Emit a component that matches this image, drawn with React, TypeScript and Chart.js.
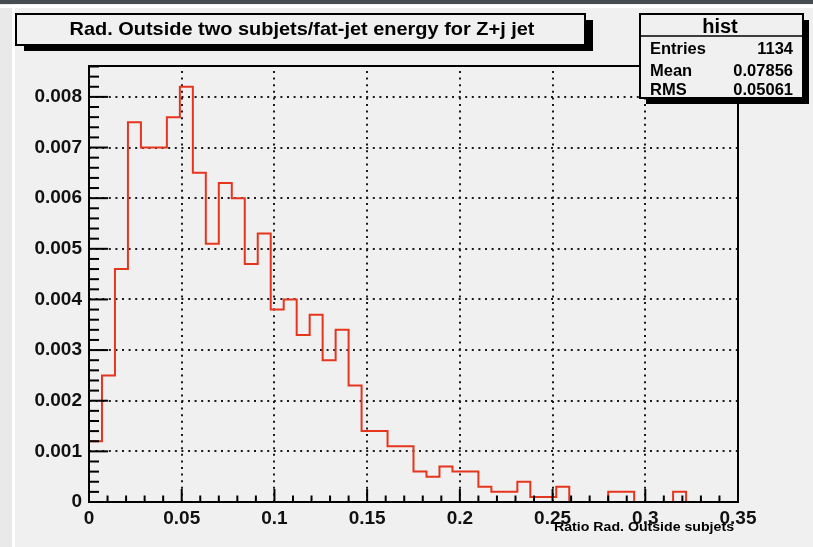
import React, { useEffect, useRef } from "react";
import { Chart, registerables } from "chart.js";

Chart.register(...registerables);

// ---------------- data ----------------
const BIN_WIDTH = 0.007;
const BIN_VALUES = [
  0.0012, 0.0025, 0.0046, 0.0075, 0.007, 0.007, 0.0076, 0.0082, 0.0065, 0.0051,
  0.0063, 0.006, 0.0047, 0.0053, 0.0038, 0.004, 0.0033, 0.0037, 0.0028, 0.0034,
  0.0023, 0.0014, 0.0014, 0.0011, 0.0011, 0.0006, 0.0005, 0.0007, 0.0006, 0.0006,
  0.0003, 0.0002, 0.0002, 0.0004, 0.0001, 0.0001, 0.0003, 0, 0, 0,
  0.0002, 0.0002, 0, 0, 0, 0.0002, 0, 0, 0, 0,
];
const X_TICKS = [0, 0.05, 0.1, 0.15, 0.2, 0.25, 0.3, 0.35];
const X_TICK_LABELS = ["0", "0.05", "0.1", "0.15", "0.2", "0.25", "0.3", "0.35"];
const Y_TICKS = [0, 0.001, 0.002, 0.003, 0.004, 0.005, 0.006, 0.007, 0.008];
const Y_TICK_LABELS = ["0", "0.001", "0.002", "0.003", "0.004", "0.005", "0.006", "0.007", "0.008"];
const X_MIN = 0;
const X_MAX = 0.35;
const Y_MIN = 0;
const Y_MAX = 0.00861;
const X_MINOR_STEP = 0.01;
const Y_MINOR_STEP = 0.0002;
const TITLE = "Rad. Outside two subjets/fat-jet energy for Z+j jet";
const X_TITLE = "Ratio Rad. Outside subjets";
const STATS_NAME = "hist";
const STATS_LABELS = ["Entries", "Mean", "RMS"];
const STATS_VALUES = ["1134", "0.07856", "0.05061"];

const FONT = "'Liberation Sans', Arial, Helvetica, sans-serif";
const BG = "#f0f0f0";
const RED = "#e6351f";

function fitText(
  ctx: CanvasRenderingContext2D,
  text: string,
  x: number,
  y: number,
  targetWidth: number,
  align: CanvasTextAlign
) {
  const w = ctx.measureText(text).width;
  const s = w > 0 ? targetWidth / w : 1;
  ctx.save();
  ctx.translate(x, y);
  ctx.scale(s, 1);
  ctx.textAlign = align;
  ctx.textBaseline = "alphabetic";
  ctx.fillText(text, 0, 0);
  ctx.restore();
}

function nearIdx(arr: number[], v: number) {
  for (let i = 0; i < arr.length; i++) if (Math.abs(arr[i] - v) < 1e-9) return i;
  return -1;
}

const rootPlugin = {
  id: "rootStyle",
  beforeDraw(chart: any) {
    const ctx: CanvasRenderingContext2D = chart.ctx;
    const W = chart.width;
    const H = chart.height;
    ctx.save();
    ctx.fillStyle = BG;
    ctx.fillRect(0, 0, W, H);
    ctx.fillStyle = "#e9e9e9";
    ctx.fillRect(0, 0, 12, H);
    ctx.fillStyle = "#ffffff";
    ctx.fillRect(12, 5, 3, H);
    ctx.fillRect(0, 5, W, 3);
    ctx.fillStyle = "#474b52";
    ctx.fillRect(0, 0, W, 4);
    ctx.restore();
  },
  beforeDatasetsDraw(chart: any) {
    const ctx: CanvasRenderingContext2D = chart.ctx;
    const { left, right, top, bottom } = chart.chartArea;
    const xs = chart.scales.x;
    const ys = chart.scales.y;
    ctx.save();
    ctx.strokeStyle = "#1a1a1a";
    ctx.lineWidth = 2;
    ctx.setLineDash([2, 4.6]);
    for (const v of Y_TICKS) {
      if (v <= Y_MIN) continue;
      const y = Math.round(ys.getPixelForValue(v));
      ctx.beginPath();
      ctx.moveTo(left, y);
      ctx.lineTo(right, y);
      ctx.stroke();
    }
    for (const v of X_TICKS) {
      if (v <= X_MIN || v >= X_MAX) continue;
      const x = Math.round(xs.getPixelForValue(v));
      ctx.beginPath();
      ctx.moveTo(x, bottom);
      ctx.lineTo(x, top);
      ctx.stroke();
    }
    ctx.restore();
  },
  afterDatasetsDraw(chart: any) {
    const ctx: CanvasRenderingContext2D = chart.ctx;
    const { left, right, top, bottom } = chart.chartArea;
    const xs = chart.scales.x;
    const ys = chart.scales.y;
    ctx.save();
    ctx.strokeStyle = "#000";
    ctx.lineWidth = 2;
    ctx.setLineDash([]);
    const nY = Math.floor((Y_MAX - Y_MIN) / Y_MINOR_STEP + 1e-6);
    for (let i = 0; i <= nY; i++) {
      const v = Y_MIN + i * Y_MINOR_STEP;
      const major = nearIdx(Y_TICKS, Math.round(v * 1e6) / 1e6) >= 0;
      const y = ys.getPixelForValue(v);
      ctx.beginPath();
      ctx.moveTo(left, y);
      ctx.lineTo(left + (major ? 19 : 10), y);
      ctx.stroke();
    }
    const nX = Math.round((X_MAX - X_MIN) / X_MINOR_STEP);
    for (let i = 0; i <= nX; i++) {
      const v = X_MIN + i * X_MINOR_STEP;
      const major = nearIdx(X_TICKS, Math.round(v * 1e6) / 1e6) >= 0;
      const x = xs.getPixelForValue(v);
      ctx.beginPath();
      ctx.moveTo(x, bottom);
      ctx.lineTo(x, bottom - (major ? 13 : 6.5));
      ctx.stroke();
    }
    ctx.strokeRect(left, top, right - left, bottom - top);
    ctx.restore();
  },
  afterDraw(chart: any) {
    const ctx: CanvasRenderingContext2D = chart.ctx;
    ctx.save();
    ctx.setLineDash([]);
    // title pave
    const tb = { x: 16, y: 14, w: 569, h: 31 };
    ctx.fillStyle = "#000";
    ctx.fillRect(tb.x + 8, tb.y + 6, tb.w, tb.h);
    ctx.fillStyle = BG;
    ctx.fillRect(tb.x, tb.y, tb.w, tb.h);
    ctx.strokeStyle = "#000";
    ctx.lineWidth = 2;
    ctx.strokeRect(tb.x, tb.y, tb.w, tb.h);
    ctx.fillStyle = "#000";
    ctx.font = `bold 18.5px ${FONT}`;
    fitText(ctx, TITLE, 302, 35, 465, "center");

    // stats box
    const sb = { x: 640, y: 14, w: 163, h: 84 };
    ctx.fillStyle = "#000";
    ctx.fillRect(sb.x + 6, sb.y + 6, sb.w, sb.h);
    ctx.fillStyle = BG;
    ctx.fillRect(sb.x, sb.y, sb.w, sb.h);
    ctx.strokeRect(sb.x, sb.y, sb.w, sb.h);
    ctx.lineWidth = 1.5;
    ctx.beginPath();
    ctx.moveTo(sb.x, 36);
    ctx.lineTo(sb.x + sb.w, 36);
    ctx.stroke();
    ctx.fillStyle = "#000";
    ctx.font = `bold 20px ${FONT}`;
    ctx.textAlign = "center";
    ctx.textBaseline = "alphabetic";
    ctx.fillText(STATS_NAME, 720, 33);
    ctx.font = `bold 16.5px ${FONT}`;
    const rowY = [53.5, 76, 94.5];
    STATS_LABELS.forEach((lab, i) => {
      ctx.textAlign = "left";
      ctx.fillText(lab, 650, rowY[i]);
      ctx.textAlign = "right";
      ctx.fillText(STATS_VALUES[i], 793, rowY[i]);
    });

    // x axis title
    ctx.font = `bold 13px ${FONT}`;
    fitText(ctx, X_TITLE, 734, 530.5, 180, "right");
    ctx.restore();
  },
};

export default function App() {
  const ref = useRef<HTMLCanvasElement | null>(null);
  useEffect(() => {
    if (!ref.current) return;
    const points: { x: number; y: number }[] = [{ x: X_MIN, y: 0 }];
    BIN_VALUES.forEach((v, i) => points.push({ x: X_MIN + i * BIN_WIDTH, y: v }));
    points.push({ x: X_MIN + BIN_VALUES.length * BIN_WIDTH, y: 0 });

    const chart = new Chart(ref.current, {
      type: "line",
      data: {
        datasets: [
          {
            label: STATS_NAME,
            data: points,
            stepped: "before",
            borderColor: RED,
            borderWidth: 2,
            pointRadius: 0,
            fill: false,
            tension: 0,
          } as any,
        ],
      },
      options: {
        animation: false,
        responsive: false,
        devicePixelRatio: 1,
        layout: { padding: { left: 0, top: 66, right: 75, bottom: 0 } },
        plugins: {
          legend: { display: false },
          tooltip: { enabled: false },
          title: { display: false },
        },
        scales: {
          x: {
            type: "linear",
            min: X_MIN,
            max: X_MAX,
            grid: { display: false, drawTicks: false },
            border: { display: false },
            afterFit: (s: any) => {
              s.height = 45;
            },
            afterBuildTicks: (s: any) => {
              s.ticks = X_TICKS.map((v) => ({ value: v }));
            },
            ticks: {
              autoSkip: false,
              maxRotation: 0,
              padding: 5,
              color: "#111",
              font: { family: FONT, size: 19, weight: "bold" },
              callback: (v: any) => {
                const i = nearIdx(X_TICKS, Number(v));
                return i >= 0 ? X_TICK_LABELS[i] : "";
              },
            },
          },
          y: {
            type: "linear",
            min: Y_MIN,
            max: Y_MAX,
            grid: { display: false, drawTicks: false },
            border: { display: false },
            afterFit: (s: any) => {
              s.width = 89;
            },
            afterBuildTicks: (s: any) => {
              s.ticks = Y_TICKS.map((v) => ({ value: v }));
            },
            ticks: {
              autoSkip: false,
              padding: 7,
              color: "#111",
              font: { family: FONT, size: 19, weight: "bold" },
              callback: (v: any) => {
                const i = nearIdx(Y_TICKS, Number(v));
                return i >= 0 ? Y_TICK_LABELS[i] : "";
              },
            },
          },
        },
      },
      plugins: [rootPlugin as any],
    });
    return () => chart.destroy();
  }, []);

  return (
    <div style={{ position: "fixed", left: 0, top: 0, width: 813, height: 547, background: BG }}>
      <canvas ref={ref} width={813} height={547} style={{ display: "block", width: 813, height: 547 }} />
    </div>
  );
}
